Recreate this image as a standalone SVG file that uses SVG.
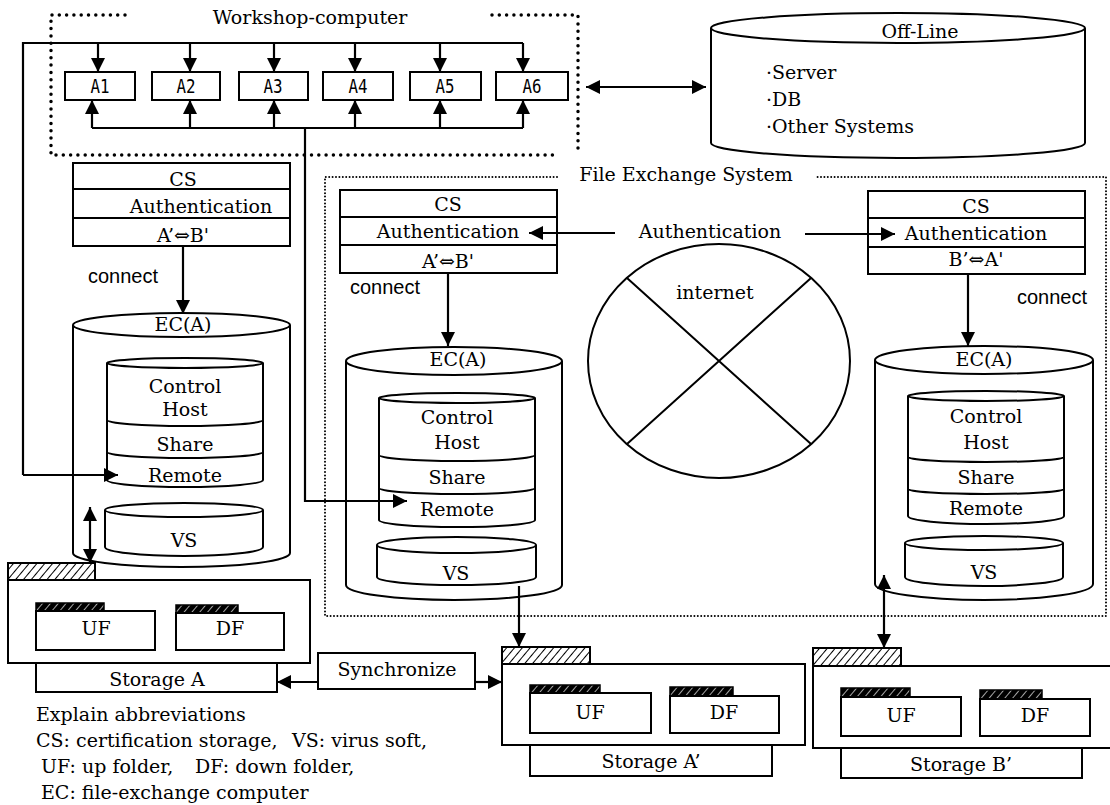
<svg xmlns="http://www.w3.org/2000/svg" width="1110" height="805" viewBox="0 0 1110 805">
<style>
.t{font-family:"DejaVu Serif","Liberation Serif",serif;font-size:19px;fill:#000;text-anchor:middle}
.l{text-anchor:start}
.m{font-family:"DejaVu Sans Mono","Liberation Mono",monospace;font-size:20px;fill:#000;text-anchor:middle}
.s{font-family:"Liberation Sans",Arial,sans-serif;font-size:20px;fill:#000}
.b{fill:#fff;stroke:#000;stroke-width:2}
.n{fill:none;stroke:#000;stroke-width:2}
.c{fill:none;stroke:#000;stroke-width:2.2}
.dw{fill:none;stroke:#000;stroke-width:3.5;stroke-linecap:round;stroke-dasharray:0 7.3}
.df{fill:none;stroke:#000;stroke-width:2;stroke-linecap:round;stroke-dasharray:0 3.4}
.ht{fill:url(#hatch);stroke:#000;stroke-width:2}
.hd{fill:url(#hatchd);stroke:#000;stroke-width:1.5}
</style>
<defs>
<marker id="ahb" viewBox="0 0 14 14" refX="14" refY="7" markerWidth="14" markerHeight="14" markerUnits="userSpaceOnUse" orient="auto-start-reverse"><path d="M0,0 L14,7 L0,14 z" fill="#000"/></marker>
<pattern id="hatch" patternUnits="userSpaceOnUse" width="6" height="6" patternTransform="rotate(40)"><rect width="6" height="6" fill="#fff"/><line x1="0" y1="0" x2="0" y2="6" stroke="#000" stroke-width="2"/></pattern>
<pattern id="hatchd" patternUnits="userSpaceOnUse" width="6" height="6" patternTransform="rotate(40)"><rect width="6" height="6" fill="#000"/><line x1="0" y1="0" x2="0" y2="6" stroke="#fff" stroke-width="1.3"/></pattern>
</defs>
<rect width="1110" height="805" fill="#fff"/>

<g id="workshop">
<path class="dw" d="M125,15 H51 V155 H555"/>
<path class="dw" d="M492,15 H578 V152"/>
<text class="t" x="310" y="24">Workshop-computer</text>
</g>
<g id="a1"><rect class="b" x="65" y="72" width="70" height="28"/><text class="m" x="100" y="93" textLength="19" lengthAdjust="spacingAndGlyphs">A1</text></g>
<g id="a2"><rect class="b" x="152" y="72" width="68" height="28"/><text class="m" x="186" y="93" textLength="19" lengthAdjust="spacingAndGlyphs">A2</text></g>
<g id="a3"><rect class="b" x="239" y="72" width="69" height="28"/><text class="m" x="273" y="93" textLength="19" lengthAdjust="spacingAndGlyphs">A3</text></g>
<g id="a4"><rect class="b" x="323" y="72" width="70" height="28"/><text class="m" x="358" y="93" textLength="19" lengthAdjust="spacingAndGlyphs">A4</text></g>
<g id="a5"><rect class="b" x="410" y="72" width="71" height="28"/><text class="m" x="445" y="93" textLength="19" lengthAdjust="spacingAndGlyphs">A5</text></g>
<g id="a6"><rect class="b" x="496" y="72" width="72" height="28"/><text class="m" x="532" y="93" textLength="19" lengthAdjust="spacingAndGlyphs">A6</text></g>

<g id="offline">
<path class="b" d="M711,28 V143 A187,15 0 0 0 1085,143 V28"/>
<ellipse class="b" cx="898" cy="28" rx="187" ry="15"/>
<text class="t" x="920" y="38">Off-Line</text>
<text class="t l" x="766" y="79">·Server</text>
<text class="t l" x="766" y="106">·DB</text>
<text class="t l" x="766" y="133">·Other Systems</text>
</g>

<g id="fes">
<path class="df" d="M557,177 H325 V616 H1106 V177 H817"/>
<text class="t" x="686" y="181">File Exchange System</text>
</g>

<g id="cs-left">
<rect class="b" x="73" y="163" width="217" height="83"/>
<line class="n" x1="73" y1="189" x2="290" y2="189"/>
<line class="n" x1="73" y1="218" x2="290" y2="218"/>
<text class="t" x="183" y="186">CS</text>
<text class="t" x="201" y="213">Authentication</text>
<text class="t" x="183" y="242">A’⇔B'</text>
</g>
<g id="cs-mid">
<rect class="b" x="340" y="190" width="217" height="83"/>
<line class="n" x1="340" y1="217" x2="557" y2="217"/>
<line class="n" x1="340" y1="245" x2="557" y2="245"/>
<text class="t" x="448" y="211">CS</text>
<text class="t" x="448" y="238">Authentication</text>
<text class="t" x="448" y="268">A’⇔B'</text>
</g>
<g id="cs-right">
<rect class="b" x="868" y="191" width="217" height="83"/>
<line class="n" x1="868" y1="218" x2="1085" y2="218"/>
<line class="n" x1="868" y1="247" x2="1085" y2="247"/>
<text class="t" x="976" y="213">CS</text>
<text class="t" x="976" y="240">Authentication</text>
<text class="t" x="976" y="266">B’⇔A'</text>
</g>

<g id="labels">
<text class="s" x="88" y="283">connect</text>
<text class="s" x="350" y="294">connect</text>
<text class="s" x="1017" y="304">connect</text>
<text class="t" x="710" y="238">Authentication</text>
</g>

<g id="internet">
<ellipse class="b" cx="719" cy="361" rx="131" ry="117"/>
<path class="n" d="M627,278 L811,444 M627,444 L811,278"/>
<text class="t" x="715" y="299">internet</text>
</g>

<g id="ec-left">
<path class="b" d="M73,325 V553 A108.5,14 0 0 0 290,553 V325"/>
<ellipse class="b" cx="181.5" cy="325" rx="108.5" ry="12"/>
<text class="t" x="183" y="331">EC(A)</text>
<path class="b" d="M107,363 V480 A78,7 0 0 0 263,480 V363"/>
<ellipse class="b" cx="185" cy="363" rx="78" ry="5"/>
<path class="n" d="M107,420 A78,6 0 0 0 263,420 M107,452 A78,6 0 0 0 263,452"/>
<text class="t" x="185" y="393">Control</text>
<text class="t" x="185" y="416">Host</text>
<text class="t" x="185" y="451">Share</text>
<text class="t" x="185" y="482">Remote</text>
<path class="b" d="M105,510 V547 A79,9 0 0 0 263,547 V510"/>
<ellipse class="b" cx="184" cy="510" rx="79" ry="7"/>
<text class="t" x="184" y="547">VS</text>
</g>

<g id="ec-mid">
<path class="b" d="M346,361 V585 A108,15 0 0 0 562,585 V361"/>
<ellipse class="b" cx="454" cy="361" rx="108" ry="14"/>
<text class="t" x="458" y="366">EC(A)</text>
<path class="b" d="M379,398 V520 A78,7 0 0 0 535,520 V398"/>
<ellipse class="b" cx="457" cy="398" rx="78" ry="5"/>
<path class="n" d="M379,455 A78,6 0 0 0 535,455 M379,488 A78,6 0 0 0 535,488"/>
<text class="t" x="457" y="424">Control</text>
<text class="t" x="457" y="449">Host</text>
<text class="t" x="457" y="484">Share</text>
<text class="t" x="457" y="516">Remote</text>
<path class="b" d="M377,545 V577 A79.5,8 0 0 0 536,577 V545"/>
<ellipse class="b" cx="456.5" cy="545" rx="79.5" ry="8"/>
<text class="t" x="456" y="580">VS</text>
</g>

<g id="ec-right">
<path class="b" d="M875,360 V584 A109,16 0 0 0 1093,584 V360"/>
<ellipse class="b" cx="984" cy="360" rx="109" ry="14"/>
<text class="t" x="984" y="366">EC(A)</text>
<path class="b" d="M908,396 V516 A78,8 0 0 0 1064,516 V396"/>
<ellipse class="b" cx="986" cy="396" rx="78" ry="5"/>
<path class="n" d="M908,457 A78,5 0 0 0 1064,457 M908,489 A78,5 0 0 0 1064,489"/>
<text class="t" x="986" y="423">Control</text>
<text class="t" x="986" y="449">Host</text>
<text class="t" x="986" y="484">Share</text>
<text class="t" x="986" y="515">Remote</text>
<path class="b" d="M905,543 V577 A79,9 0 0 0 1063,577 V543"/>
<ellipse class="b" cx="984" cy="543" rx="79" ry="7"/>
<text class="t" x="984" y="579">VS</text>
</g>

<g id="storage-a">
<rect class="ht" x="8" y="563" width="87" height="17"/>
<rect class="b" x="8" y="580" width="302" height="83"/>
<rect class="hd" x="36" y="603" width="68" height="8"/>
<rect class="b" x="36" y="611" width="119" height="39"/>
<text class="t" x="96" y="635">UF</text>
<rect class="hd" x="176" y="605" width="62" height="8"/>
<rect class="b" x="176" y="613" width="108" height="37"/>
<text class="t" x="230" y="635">DF</text>
<rect class="b" x="36" y="663" width="241" height="29"/>
<text class="t" x="157" y="686">Storage A</text>
</g>

<g id="sync">
<rect class="b" x="318" y="653" width="157" height="36"/>
<text class="t" x="397" y="676">Synchronize</text>
</g>

<g id="storage-a2">
<rect class="ht" x="502" y="647" width="88" height="17"/>
<rect class="b" x="502" y="664" width="303" height="81"/>
<rect class="hd" x="530" y="685" width="70" height="8"/>
<rect class="b" x="530" y="693" width="121" height="40"/>
<text class="t" x="590" y="719">UF</text>
<rect class="hd" x="670" y="687" width="63" height="9"/>
<rect class="b" x="670" y="696" width="109" height="37"/>
<text class="t" x="724" y="719">DF</text>
<rect class="b" x="530" y="745" width="242" height="31"/>
<text class="t" x="651" y="768">Storage A’</text>
</g>

<g id="storage-b2">
<rect class="ht" x="813" y="648" width="88" height="18"/>
<rect class="b" x="813" y="666" width="310" height="82"/>
<rect class="hd" x="841" y="688" width="69" height="9"/>
<rect class="b" x="841" y="697" width="120" height="39"/>
<text class="t" x="901" y="722">UF</text>
<rect class="hd" x="980" y="690" width="62" height="9"/>
<rect class="b" x="980" y="699" width="110" height="37"/>
<text class="t" x="1035" y="722">DF</text>
<rect class="b" x="841" y="748" width="241" height="30"/>
<text class="t" x="961" y="771">Storage B’</text>
</g>

<g id="legend">
<text class="t l" x="36" y="721">Explain abbreviations</text>
<text class="t l" x="36" y="747">CS: certification storage,</text>
<text class="t l" x="292" y="747">VS: virus soft,</text>
<text class="t l" x="41" y="773">UF: up folder,</text>
<text class="t l" x="195" y="773">DF: down folder,</text>
<text class="t l" x="41" y="799">EC: file-exchange computer</text>
</g>

<g id="connectors">
<path class="c" d="M23,475 V43 H523"/>
<path class="c" marker-end="url(#ahb)" d="M98,43 V72"/>
<path class="c" marker-end="url(#ahb)" d="M190,43 V72"/>
<path class="c" marker-end="url(#ahb)" d="M274,43 V72"/>
<path class="c" marker-end="url(#ahb)" d="M355,43 V72"/>
<path class="c" marker-end="url(#ahb)" d="M440,43 V72"/>
<path class="c" marker-end="url(#ahb)" d="M523,43 V72"/>
<path class="c" marker-end="url(#ahb)" d="M23,475 H118"/>
<path class="c" d="M92,128 H523"/>
<path class="c" marker-end="url(#ahb)" d="M92,128 V100"/>
<path class="c" marker-end="url(#ahb)" d="M190,128 V100"/>
<path class="c" marker-end="url(#ahb)" d="M274,128 V100"/>
<path class="c" marker-end="url(#ahb)" d="M355,128 V100"/>
<path class="c" marker-end="url(#ahb)" d="M440,128 V100"/>
<path class="c" marker-end="url(#ahb)" d="M523,128 V100"/>
<path class="c" marker-end="url(#ahb)" d="M305,128 V501 H407"/>
<path class="c" marker-start="url(#ahb)" marker-end="url(#ahb)" d="M586,87 H706"/>
<path class="c" marker-end="url(#ahb)" d="M183,246 V314"/>
<path class="c" marker-end="url(#ahb)" d="M448,273 V346"/>
<path class="c" marker-end="url(#ahb)" d="M968,274 V346"/>
<path class="c" marker-end="url(#ahb)" d="M615,233 H529"/>
<path class="c" marker-end="url(#ahb)" d="M805,234 H895"/>
<path class="c" marker-start="url(#ahb)" marker-end="url(#ahb)" d="M90,507 V563"/>
<path class="c" marker-end="url(#ahb)" d="M519,586 V647"/>
<path class="c" marker-start="url(#ahb)" marker-end="url(#ahb)" d="M884,575 V648"/>
<path class="c" marker-end="url(#ahb)" d="M318,682 H277"/>
<path class="c" marker-end="url(#ahb)" d="M475,682 H502"/>
</g>
</svg>
